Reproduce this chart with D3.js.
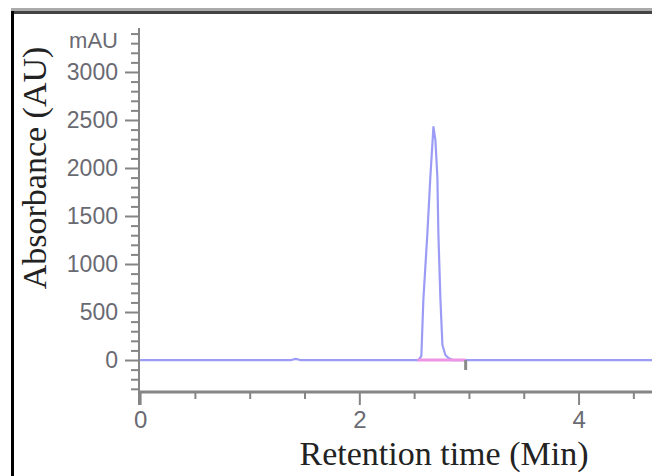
<!DOCTYPE html>
<html>
<head>
<meta charset="utf-8">
<script src="https://cdn.jsdelivr.net/npm/d3@7"></script>
<style>
  body { margin: 0; background: #fff; }
  svg { display: block; }
</style>
</head>
<body>
<script>
// chromatogram trace (retention time in min, absorbance in mAU)
var times = [0, 1.38, 1.42, 1.46, 2.3, 2.539, 2.566, 2.584, 2.621, 2.648, 2.676, 2.694, 2.712, 2.721, 2.740, 2.758, 2.785, 2.813, 2.85, 4.7];
var absorbance = [0, 0, 12, 0, 0, 0, 42, 625, 1323, 1906, 2427, 2292, 1906, 1323, 625, 156, 52, 21, 0, 0];

// integration baseline (pink) and peak end marker
var baseStart = 2.53, baseEnd = 2.97;
var peakEndMarker = 2.97;

var yMajor = [0, 500, 1000, 1500, 2000, 2500, 3000];
var xMajor = [0, 2, 4];
var xMinor = [0.5, 1, 1.5, 2.5, 3, 3.5, 4.5];
var yUnit = "mAU";
var xTitle = "Retention time (Min)";
var yTitle = "Absorbance (AU)";

var W = 652, H = 476;
var svg = d3.select("body").append("svg").attr("width", W).attr("height", H);

// frame
svg.append("rect").attr("x", 11).attr("y", 8).attr("width", W - 11).attr("height", 3).attr("fill", "#aaaaaa");
svg.append("rect").attr("x", 11).attr("y", 11).attr("width", W - 11).attr("height", 3).attr("fill", "#444444");
svg.append("rect").attr("x", 11).attr("y", 11).attr("width", 3).attr("height", H - 11).attr("fill", "#000");

var x = d3.scaleLinear().domain([-0.01, 4.67]).range([139, 652]);
var y = d3.scaleLinear().domain([-333, 3458]).range([392, 28]);

var axisColor = "#858585";
var numFmt = d3.format("d");

// y axis
var yMinor = d3.range(-300, 3401, 100).filter(function(v) { return v % 500 !== 0; });
var gy = svg.append("g").attr("transform", "translate(" + x.range()[0] + ",0)");
gy.call(d3.axisLeft(y).tickValues(yMinor).tickSize(8).tickFormat(""));
gy.append("g").call(d3.axisLeft(y).tickValues(yMajor).tickSize(14).tickPadding(7).tickFormat(numFmt));
gy.selectAll(".domain").remove();
gy.selectAll("line").attr("stroke", axisColor).attr("stroke-width", 2);
gy.append("line").attr("x1", 0).attr("x2", 0).attr("y1", 28).attr("y2", 405)
  .attr("stroke", axisColor).attr("stroke-width", 2);
gy.selectAll("text").attr("font-family", "Liberation Sans, Arial, sans-serif")
  .attr("font-size", 23).attr("fill", "#6a6a72").attr("x", -21);

svg.append("text").attr("x", 118).attr("y", 40).attr("dy", "0.35em")
  .attr("text-anchor", "end").attr("font-family", "Liberation Sans, Arial, sans-serif")
  .attr("font-size", 22).attr("fill", "#6a6a72").text(yUnit);

// x axis
var gx = svg.append("g").attr("transform", "translate(0," + y.range()[0] + ")");
gx.call(d3.axisBottom(x).tickValues(xMinor).tickSize(7).tickFormat(""));
gx.append("g").call(d3.axisBottom(x).tickValues(xMajor).tickSize(13).tickPadding(6).tickFormat(numFmt));
gx.selectAll(".domain").remove();
gx.selectAll("line").attr("stroke", axisColor).attr("stroke-width", 2);
gx.append("line").attr("x1", x.range()[0]).attr("x2", W).attr("y1", 0).attr("y2", 0)
  .attr("stroke", axisColor).attr("stroke-width", 3);
gx.selectAll("text").attr("font-family", "Liberation Sans, Arial, sans-serif")
  .attr("font-size", 24).attr("fill", "#6a6a72");

// trace
var line = d3.line()
  .x(function(d) { return x(d[0]); })
  .y(function(d) { return y(d[1]); });

svg.append("path")
  .datum(d3.zip(times, absorbance))
  .attr("d", line)
  .attr("fill", "none")
  .attr("stroke", "#9c9cf6")
  .attr("stroke-width", 2.2)
  .attr("stroke-linejoin", "round");

svg.append("line")
  .attr("x1", x(baseStart)).attr("x2", x(baseEnd))
  .attr("y1", y(0)).attr("y2", y(0))
  .attr("stroke", "#ee94e4").attr("stroke-width", 3);

svg.append("line")
  .attr("x1", x(peakEndMarker)).attr("x2", x(peakEndMarker))
  .attr("y1", y(0)).attr("y2", y(0) + 10)
  .attr("stroke", "#8a8a8a").attr("stroke-width", 3);

// titles
svg.append("text")
  .attr("x", 444).attr("y", 465)
  .attr("text-anchor", "middle")
  .attr("font-family", "Liberation Serif, Times New Roman, serif")
  .attr("font-size", 34).attr("fill", "#222")
  .text(xTitle);

svg.append("text")
  .attr("transform", "translate(46,168) rotate(-90)")
  .attr("text-anchor", "middle")
  .attr("font-family", "Liberation Serif, Times New Roman, serif")
  .attr("font-size", 34).attr("fill", "#222")
  .text(yTitle);
</script>
</body>
</html>
